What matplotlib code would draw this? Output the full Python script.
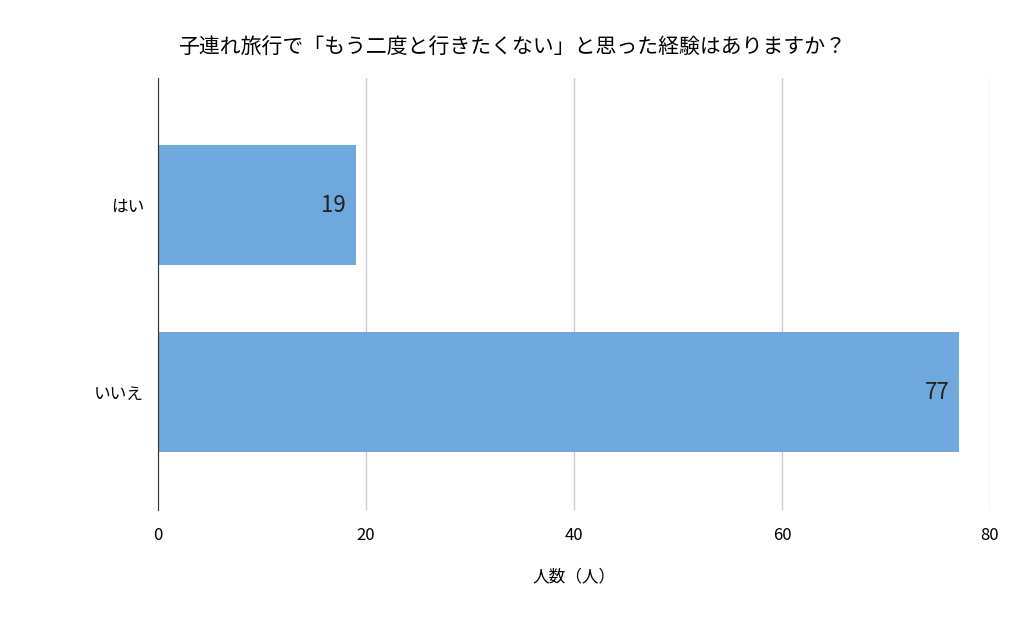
import matplotlib
matplotlib.use("Agg")
import matplotlib.pyplot as plt

plt.rcParams['font.family'] = ['Noto Sans CJK JP', 'DejaVu Sans']

categories = ["はい", "いいえ"]
values = [19, 77]
xticks = [0, 20, 40, 60, 80]
title = "子連れ旅行で「もう二度と行きたくない」と思った経験はありますか？"
xlabel = "人数（人）"

fig = plt.figure(figsize=(10.24, 6.34), dpi=100)
ax = fig.add_axes([158/1024, 1-510/634, 832/1024, 432/634])
y = list(range(len(categories)))
bars = ax.barh(y, values, height=0.64, color="#6fa8dc")
for yi, v in zip(y, values):
    ax.text(v - 0.9, yi, str(v), ha="right", va="center", fontsize=16, color="#222222")
ax.set_ylim(1.63, -0.68)
ax.set_xlim(0, 80)
ax.set_xticks(xticks)
ax.set_yticks(y)
ax.set_yticklabels(categories, fontsize=12)
ax.tick_params(axis="x", labelsize=12, length=0, pad=12)
ax.tick_params(axis="y", length=0, pad=10)
ax.grid(axis="x", color="#cccccc", linewidth=1)
ax.set_axisbelow(True)
for s in ["top", "right", "bottom"]:
    ax.spines[s].set_visible(False)
ax.spines["left"].set_color("#333333")
ax.set_xlabel(xlabel, fontsize=12, labelpad=18)
fig.text(0.5, 1-47/634, title, ha="center", va="center", fontsize=15)
fig.savefig("out.png", dpi=100)
